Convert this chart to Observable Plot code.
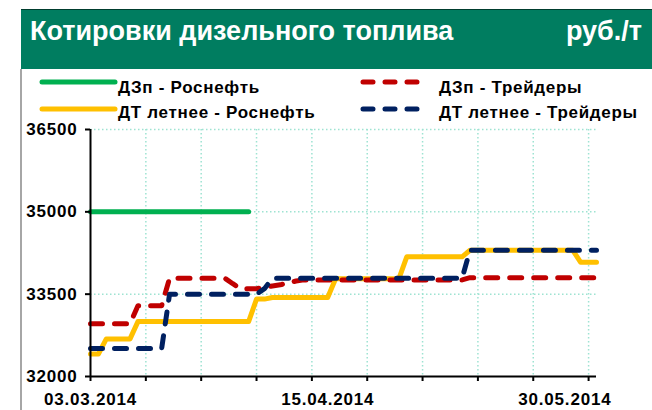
<!DOCTYPE html>
<html>
<head>
<meta charset="utf-8">
<script src="https://cdn.jsdelivr.net/npm/d3@7"></script>
<script src="https://cdn.jsdelivr.net/npm/@observablehq/plot@0.6"></script>
<style>
  body { margin: 0; background: #fff; font-family: "Liberation Sans", Arial, sans-serif; }
  #wrap { position: relative; width: 652px; height: 410px; overflow: hidden; background: #fff; }
  #plot { position: absolute; left: 0; top: 120px; }
  #plot svg text { letter-spacing: 0.8px; }
  #hdr { position: absolute; left: 0; top: 0; }
  #border { position: absolute; left: 20px; top: 69px; width: 2px; height: 341px; background: #a6a6a6; }
</style>
</head>
<body>
<div id="wrap">
  <div id="border"></div>
  <div id="plot"></div>
  <svg id="hdr" width="652" height="124"></svg>
</div>
<script>
// ---- data (x = trading-day index from 03.03.2014) ----
const titleText = "Котировки дизельного топлива";
const unitText = "руб./т";

const seriesNames = ["ДЗп - Роснефть", "ДЗп - Трейдеры", "ДТ летнее - Роснефть", "ДТ летнее - Трейдеры"];
const seriesColors = ["#00B050", "#C00000", "#FFC000", "#002060"];

const greenX = [0, 20];
const greenY = [35000, 35000];

const redX = [0, 5, 6, 9, 10, 17, 18, 19, 21, 23, 24, 26, 27, 47, 48, 64];
const redY = [32960, 32960, 33290, 33290, 33790, 33790, 33690, 33600, 33600, 33650, 33670, 33740, 33760, 33760, 33800, 33800];

const yellowX = [0, 1, 2, 5, 6, 20, 21, 22, 23, 30, 31, 39, 40, 47, 48, 61, 62, 64];
const yellowY = [32410, 32410, 32685, 32685, 33000, 33000, 33410, 33410, 33440, 33440, 33780, 33780, 34180, 34180, 34300, 34300, 34080, 34080];

const blueX = [0, 9, 10, 21, 22, 23, 47, 48, 64];
const blueY = [32510, 32510, 33500, 33500, 33600, 33790, 33790, 34300, 34300];

const yTicks = [32000, 33500, 35000, 36500];
const xTickIdx = [0, 7, 14, 21, 28, 35, 42, 49, 56, 63];
const xLabelIdx = [0, 30, 60];
const xLabels = ["03.03.2014", "15.04.2014", "30.05.2014"];

// ---- build table ----
const seriesXY = [
  [greenX, greenY], [redX, redY], [yellowX, yellowY], [blueX, blueY]
];
const rows = seriesXY.flatMap(([xs, ys], s) => xs.map((x, i) => ({ s: seriesNames[s], x, y: ys[i] })));
const dashed = [false, true, false, true];
const drawOrder = [0, 2, 1, 3];

const gridStyle = { stroke: "#9EE3D2", strokeOpacity: 1, strokeWidth: 1.5, strokeDasharray: "1.5,2.5" };

const lineMarks = drawOrder.map(k => Plot.line(rows.filter(r => r.s === seriesNames[k]), {
  x: "x", y: "y",
  stroke: seriesColors[k], strokeWidth: 5,
  strokeLinecap: "round", strokeLinejoin: "round",
  strokeDasharray: dashed[k] ? "12,12" : null
}));

const chart = Plot.plot({
  width: 652, height: 290,
  marginLeft: 90, marginRight: 56, marginTop: 9, marginBottom: 34,
  x: { domain: [0, 64], axis: null, label: null },
  y: { domain: [32000, 36500], axis: null, label: null },
  style: { fontFamily: "Liberation Sans, Arial, sans-serif", fontWeight: "bold", fontSize: "17px", color: "#000", background: "transparent", overflow: "visible" },
  marks: [
    Plot.gridX(xTickIdx.slice(1), gridStyle),
    Plot.gridY(yTicks.slice(1), gridStyle),
    ...lineMarks,
    Plot.axisY({ ticks: yTicks, label: null, tickSize: 5, tickPadding: 8, strokeWidth: 2, tickFormat: d => String(d), fontSize: 17, fontWeight: "bold" }),
    Plot.axisX({ ticks: xTickIdx, label: null, tickSize: 5, strokeWidth: 2, tickFormat: () => "" }),
    Plot.axisX({ ticks: xLabelIdx, label: null, tickSize: 0, tickPadding: 16, tickFormat: d => xLabels[xLabelIdx.indexOf(d)], fontSize: 17, fontWeight: "bold" }),
    Plot.ruleX([0], { stroke: "#000", strokeWidth: 2 }),
    Plot.ruleY([32000], { stroke: "#000", strokeWidth: 2 })
  ]
});
document.getElementById("plot").appendChild(chart);

// ---- header & legend ----
const hdr = d3.select("#hdr");
const FONT = "Liberation Sans, Arial, sans-serif";
hdr.append("rect").attr("x", 21).attr("y", 9).attr("width", 631).attr("height", 60).attr("fill", "#007D60");
hdr.append("rect").attr("x", 21).attr("y", 9).attr("width", 631).attr("height", 1).attr("fill", "#003d2e");
hdr.append("text").attr("x", 30).attr("y", 40).attr("fill", "#fff")
  .attr("font-size", 27).attr("font-weight", "bold").attr("font-family", FONT)
  .text(titleText);
hdr.append("text").attr("x", 642).attr("y", 40).attr("fill", "#fff").attr("text-anchor", "end")
  .attr("font-size", 27).attr("font-weight", "bold").attr("font-family", FONT)
  .text(unitText);

const legendPos = [
  { x0: 42, x1: 115, ly: 82, tx: 118, ty: 93 },
  { x0: 363, x1: 425, ly: 82, tx: 439, ty: 93 },
  { x0: 42, x1: 115, ly: 109, tx: 118, ty: 118 },
  { x0: 363, x1: 425, ly: 109, tx: 439, ty: 118 }
];
legendPos.forEach((p, k) => {
  hdr.append("line").attr("x1", p.x0).attr("x2", p.x1).attr("y1", p.ly).attr("y2", p.ly)
    .attr("stroke", seriesColors[k]).attr("stroke-width", 5).attr("stroke-linecap", "round")
    .attr("stroke-dasharray", dashed[k] ? "10,12" : null);
  hdr.append("text").attr("x", p.tx).attr("y", p.ty).attr("fill", "#000")
    .attr("font-size", 17).attr("font-weight", "bold").attr("font-family", FONT)
    .attr("letter-spacing", "0.7px")
    .text(seriesNames[k]);
});
</script>
</body>
</html>
